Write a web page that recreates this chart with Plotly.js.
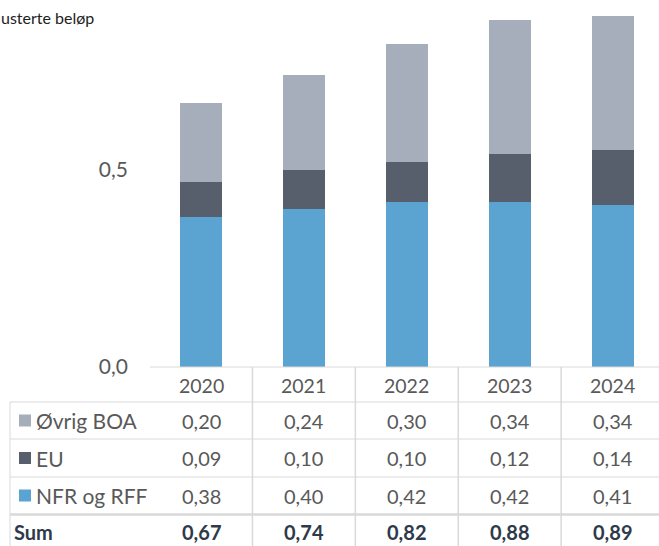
<!DOCTYPE html>
<html>
<head>
<meta charset="utf-8">
<script src="https://cdn.plot.ly/plotly-3.0.1.min.js"></script>
<style>html,body{margin:0;padding:0;background:#fff;}#chart{width:659px;height:546px;}</style>
</head>
<body>
<div id="chart"></div>
<script>
const years = ['2020', '2021', '2022', '2023', '2024'];
const ovrigBOA = [0.20, 0.24, 0.30, 0.34, 0.34];
const eu = [0.09, 0.10, 0.10, 0.12, 0.14];
const nfrRff = [0.38, 0.40, 0.42, 0.42, 0.41];
const sums = [0.67, 0.74, 0.82, 0.88, 0.89];
const seriesNames = ['Øvrig BOA', 'EU', 'NFR og RFF'];
const yTickVals = [0, 0.5];
const titleText = 'usterte beløp';

const W = 659, H = 546, L = 151;
const colBOA = '#A5AEBA', colEU = '#575F6D', colNFR = '#5BA3D0';
const gridCol = '#D9D9D9';
const textCol = '#595959';
const sumCol = '#2E3A4A';
const FONT = 'Lato, "Open Sans", sans-serif';

const px = x => (x - L) / (W - L);
const py = y => 1 - y / H;
const fmt = v => v.toFixed(2).replace('.', ',');

const traces = [
  {type: 'bar', x: years, y: nfrRff, name: seriesNames[2], marker: {color: colNFR}, hoverinfo: 'skip'},
  {type: 'bar', x: years, y: eu, name: seriesNames[1], marker: {color: colEU}, hoverinfo: 'skip'},
  {type: 'bar', x: years, y: ovrigBOA, name: seriesNames[0], marker: {color: colBOA}, hoverinfo: 'skip'}
];

const shapes = [];
const annotations = [];
const line = (x0, y0, x1, y1, w, xref) => shapes.push({
  type: 'line', xref: xref || 'paper', yref: 'paper',
  x0: x0, x1: x1, y0: y0, y1: y1,
  line: {color: gridCol, width: w || 1}
});

// horizontal grid lines
line(px(150), py(367), px(W + 10), py(367));
[402, 439, 477].forEach(y => line(px(10), py(y), px(W + 10), py(y)));
line(px(10), py(514.5), px(W + 10), py(514.5), 2.5);
// left border
line(px(10), py(402), px(10), py(H + 5));
// column boundaries (data x coordinates)
for (let i = 0; i <= years.length; i++) {
  line(i - 0.5, py(367), i - 0.5, py(H + 5), 1.5, 'x');
}

const rowY = [385, 420.5, 458, 495.5, 532];
const rows = [ovrigBOA, eu, nfrRff];
const rowCols = [colBOA, colEU, colNFR];

years.forEach((yr, i) => {
  annotations.push({xref: 'x', yref: 'paper', x: i, y: py(rowY[0]), text: yr, showarrow: false,
    font: {family: FONT, size: 19.5, color: textCol}, xanchor: 'center', yanchor: 'middle'});
  rows.forEach((arr, r) => {
    annotations.push({xref: 'x', yref: 'paper', x: i, y: py(rowY[r + 1]), text: fmt(arr[i]), showarrow: false,
      font: {family: FONT, size: 20, color: textCol}, xanchor: 'center', yanchor: 'middle'});
  });
  annotations.push({xref: 'x', yref: 'paper', x: i, y: py(rowY[4]), text: '<b>' + fmt(sums[i]) + '</b>', showarrow: false,
    font: {family: FONT, size: 20, color: sumCol}, xanchor: 'center', yanchor: 'middle'});
});

seriesNames.forEach((nm, r) => {
  const yc = rowY[r + 1];
  shapes.push({type: 'rect', xref: 'paper', yref: 'paper',
    x0: px(19), x1: px(31), y0: py(yc - 6), y1: py(yc + 6),
    fillcolor: rowCols[r], line: {width: 0}});
  annotations.push({xref: 'paper', yref: 'paper', x: px(34), y: py(yc), text: nm, showarrow: false,
    font: {family: FONT, size: 21, color: textCol}, xanchor: 'left', yanchor: 'middle'});
});
annotations.push({xref: 'paper', yref: 'paper', x: px(12), y: py(rowY[4]), text: '<b>Sum</b>', showarrow: false,
  font: {family: FONT, size: 20, color: sumCol}, xanchor: 'left', yanchor: 'middle'});

annotations.push({xref: 'paper', yref: 'paper', x: px(-1), y: py(17), text: titleText, showarrow: false,
  font: {family: FONT, size: 16, color: '#222222'}, xanchor: 'left', yanchor: 'middle'});

const layout = {
  width: W, height: H,
  margin: {l: L, r: 0, t: 0, b: 0, pad: 0},
  paper_bgcolor: '#ffffff', plot_bgcolor: 'rgba(0,0,0,0)',
  barmode: 'stack', bargap: 0.592,
  showlegend: false,
  font: {family: FONT, color: textCol},
  xaxis: {type: 'category', range: [-0.486, 4.451], showticklabels: false, showgrid: false,
    zeroline: false, showline: false, ticks: ''},
  yaxis: {range: [-179 / 394, 367 / 394], tickvals: yTickVals, tickformat: '.1f',
    showgrid: false, zeroline: false, showline: false, ticks: '',
    ticklabelstandoff: 22, tickfont: {family: FONT, size: 21, color: textCol}},
  separators: ',.',
  shapes: shapes,
  annotations: annotations
};

Plotly.newPlot('chart', traces, layout, {staticPlot: true, displayModeBar: false});
</script>
</body>
</html>
